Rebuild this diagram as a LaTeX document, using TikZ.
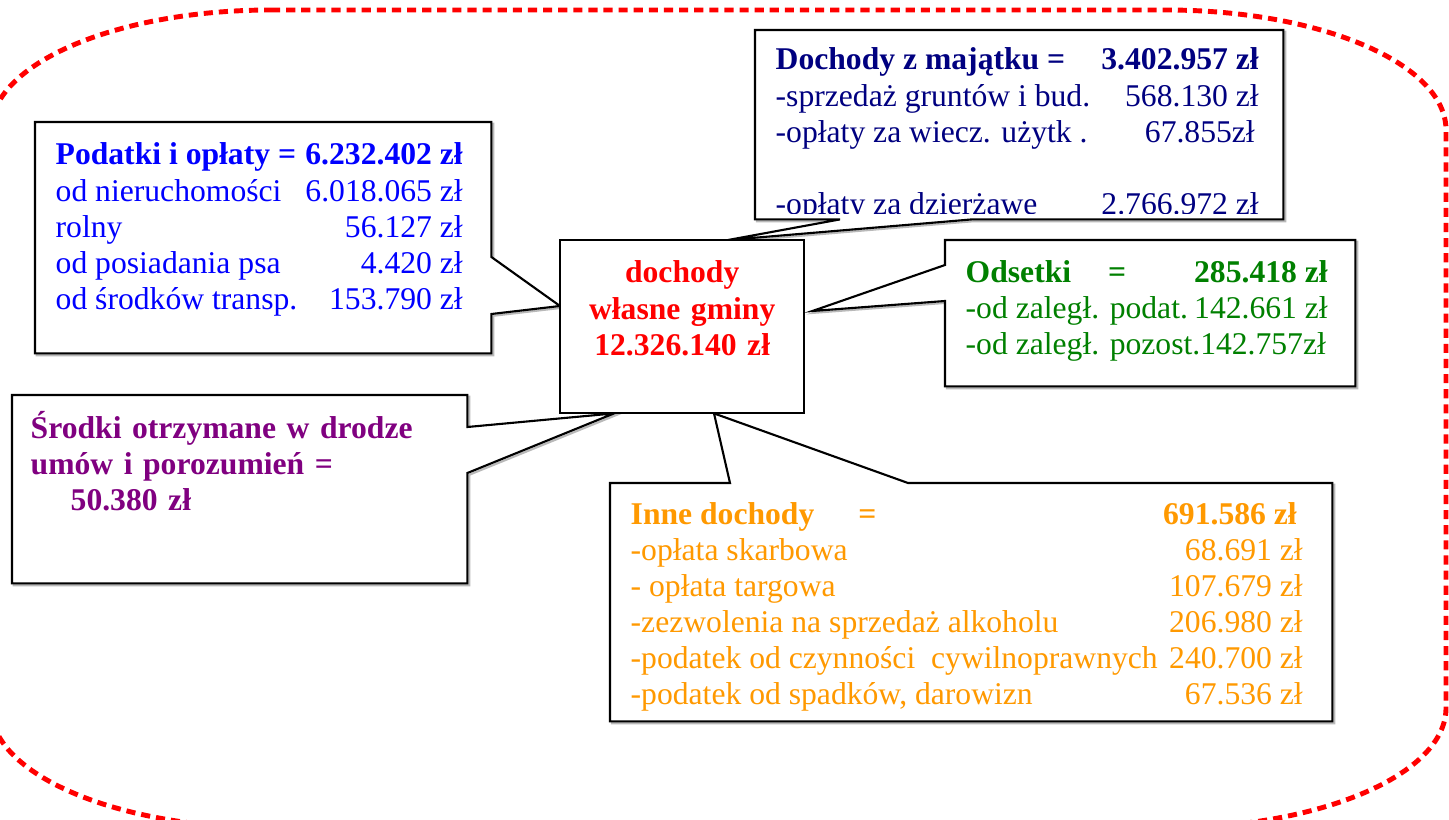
\documentclass[tikz,border=0pt]{standalone}
\usepackage{fontspec}
\setmainfont{Liberation Serif}
\usepackage{tikz}
\usetikzlibrary{calc,positioning}

\definecolor{navyblue}{RGB}{0,0,128}
\definecolor{darkgreen}{RGB}{0,128,0}
\definecolor{plum}{RGB}{128,0,128}
\definecolor{amber}{RGB}{255,153,0}

\tikzset{
	area/.style={inner sep=0pt, anchor=north west},
	wedgebox/.style={draw=black, line width=0.6pt, fill=white, line join=miter,
		preaction={draw=gray!55, line width=0.6pt, transform canvas={shift={(0.018,-0.018)}}}},
	txt/.style={anchor=base west, inner sep=0pt, font=\fontsize{9}{10.25}\selectfont},
	outline/.style={draw=red, line width=1.4pt, dash pattern=on 2.6pt off 1.7pt}
}

\newcommand{\rows}[2]{\begin{tabular*}{#1}[t]{@{}l@{\extracolsep{\fill}}r@{}}#2\end{tabular*}}

\begin{document}
\begin{tikzpicture}
			\useasboundingbox (0,0) rectangle (14.49,-8.20);

			% dashed frame
			\draw[outline] (2.71,-0.10) -- (11.66,-0.10)
				arc[start angle=90, end angle=0, x radius=2.8, y radius=1.2] -- (14.46,-7.08)
				arc[start angle=0, end angle=-90, x radius=2.8, y radius=1.2] -- (2.71,-8.28)
				arc[start angle=270, end angle=180, x radius=2.8, y radius=1.2] -- (-0.09,-1.30)
				arc[start angle=180, end angle=90, x radius=2.8, y radius=1.2] -- cycle;

			% boxes
			\node[area, minimum width=2.43cm, minimum height=1.72cm] (wlasne) at (5.60,-2.40) {};
			\node[area, minimum width=4.55cm, minimum height=2.30cm] (podatki) at (0.35,-1.22) {};
			\node[area, minimum width=5.27cm, minimum height=1.88cm] (majatek) at (7.55,-0.30) {};
			\node[area, minimum width=4.09cm, minimum height=1.45cm] (odsetki) at (9.45,-2.40) {};
			\node[area, minimum width=4.54cm, minimum height=1.87cm] (srodki) at (0.12,-3.95) {};
			\node[area, minimum width=7.21cm, minimum height=2.37cm] (inne) at (6.10,-4.83) {};

			% wedge points
			\coordinate (podatki-a) at ($(podatki.north east)+(0,-1.35)$);
			\coordinate (podatki-b) at ($(podatki.north east)+(0,-1.92)$);
			\coordinate (podatki-tip) at ($(wlasne.north west)+(0,-0.66)$);
			\coordinate (majatek-a) at ($(majatek.south west)+(0.85,0)$);
			\coordinate (majatek-b) at ($(majatek.south west)+(2.17,0)$);
			\coordinate (majatek-tip) at ($(wlasne.north west)+(1.68,0)$);
			\coordinate (odsetki-a) at ($(odsetki.north west)+(0,-0.25)$);
			\coordinate (odsetki-b) at ($(odsetki.north west)+(0,-0.61)$);
			\coordinate (odsetki-tip) at ($(wlasne.north east)+(0.08,-0.71)$);
			\coordinate (srodki-a) at ($(srodki.north east)+(0,-0.32)$);
			\coordinate (srodki-b) at ($(srodki.north east)+(0,-0.78)$);
			\coordinate (srodki-tip) at ($(wlasne.south west)+(0.54,0)$);
			\coordinate (inne-a) at ($(inne.north west)+(1.20,0)$);
			\coordinate (inne-b) at ($(inne.north west)+(2.98,0)$);
			\coordinate (inne-tip) at ($(wlasne.south west)+(1.54,0)$);

			\path[wedgebox] (podatki.north west) -- (podatki.north east) -- (podatki-a) -- (podatki-tip)
				-- (podatki-b) -- (podatki.south east) -- (podatki.south west) -- cycle;
			\path[wedgebox] (majatek.north west) -- (majatek.north east) -- (majatek.south east)
				-- (majatek-b) -- (majatek-tip) -- (majatek-a) -- (majatek.south west) -- cycle;
			\path[wedgebox] (odsetki.north west) -- (odsetki.north east) -- (odsetki.south east)
				-- (odsetki.south west) -- (odsetki-b) -- (odsetki-tip) -- (odsetki-a) -- cycle;
			\path[wedgebox] (srodki.north west) -- (srodki.north east) -- (srodki-a) -- (srodki-tip)
				-- (srodki-b) -- (srodki.south east) -- (srodki.south west) -- cycle;
			\path[wedgebox] (inne.north west) -- (inne-a) -- (inne-tip) -- (inne-b) -- (inne.north east)
				-- (inne.south east) -- (inne.south west) -- cycle;
			\path[draw=black, line width=0.6pt, fill=white] (wlasne.north west) rectangle (wlasne.south east);

			% texts
			\node[txt, text=blue] (podatki-txt) at ($(podatki.north west)+(0.20,-0.43)$)
				{\rows{4.07cm}{\textbf{Podatki i opłaty =} & \textbf{6.232.402 zł}\\
				od nieruchomości & 6.018.065 zł\\
				rolny & 56.127 zł\\
				od posiadania psa & 4.420 zł\\
				od środków transp. & 153.790 zł}};

			\begin{scope}
				\clip (majatek.north west) rectangle ($(majatek.south east)+(0,0.06)$);
				\node[txt, text=navyblue] (majatek-txt) at ($(majatek.north west)+(0.20,-0.40)$)
					{\rows{4.83cm}{\textbf{Dochody z majątku =} & \textbf{3.402.957 zł}\\
					-sprzedaż gruntów i bud. & 568.130 zł\\
					-opłaty za wiecz. użytk . & 67.855zł\hspace*{0.04cm}\\
					& \\
					-opłaty za dzierżawe & 2.766.972 zł}};
			\end{scope}

			\node[txt, text=darkgreen] (odsetki-txt) at ($(odsetki.north west)+(0.20,-0.42)$)
				{\rows{3.62cm}{\textbf{Odsetki\hspace{0.37cm}=} & \textbf{285.418 zł}\\
				-od zaległ. podat. & 142.661 zł\\
				\multicolumn{2}{@{}l@{}}{-od zaległ. pozost.142.757zł}}};

			\node[txt, text=plum, text width=4.3cm, align=left, font=\fontsize{9}{10.25}\selectfont\bfseries] (srodki-txt)
				at ($(srodki.north west)+(0.18,-0.43)$)
				{Środki otrzymane w drodze\\
				umów i porozumień =\\
				\hspace*{0.40cm}50.380 zł};

			\node[txt, text=amber] (inne-txt) at ($(inne.north west)+(0.20,-0.41)$)
				{\rows{6.72cm}{\textbf{Inne dochody\hspace{0.44cm}=} & \textbf{691.586 zł}\hspace*{0.06cm}\\
				-opłata skarbowa & 68.691 zł\\
				- opłata targowa & 107.679 zł\\
				-zezwolenia na sprzedaż alkoholu & 206.980 zł\\
				-podatek od czynności\ \ cywilnoprawnych & 240.700 zł\\
				-podatek od spadków, darowizn & 67.536 zł}};

			\node[txt, anchor=base, text width=2.43cm, align=center, text=red, font=\fontsize{9}{10.25}\selectfont\bfseries] (wlasne-txt)
				at ($(wlasne.north)+(0,-0.43)$)
				{dochody\\
				własne gminy\\
				12.326.140 zł};

\end{tikzpicture}
\end{document}
